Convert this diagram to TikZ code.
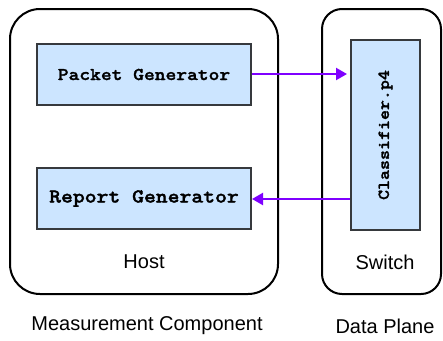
\documentclass[tikz,border=0pt]{standalone}
\usepackage{fontspec}
\setmainfont{Liberation Sans}
\newfontfamily\codefont{lmmonolt10-bold.otf}[FakeStretch=1.14,FakeBold=1.6]
\usetikzlibrary{arrows.meta}
\definecolor{boxfill}{HTML}{CCE5FF}
\definecolor{boxline}{HTML}{36393D}
\definecolor{flow}{HTML}{7F00FF}
\tikzset{
  group/.style={draw=black, line width=2pt, fill=white},
  module/.style={draw=boxline, line width=2pt, fill=boxfill, inner sep=0pt},
  flowarrow/.style={draw=flow, line width=2.2pt, -{Triangle[length=11pt,width=12pt]}},
  caption/.style={font=\fontsize{20}{23}\selectfont, anchor=center}
}
\begin{document}
\begin{tikzpicture}[x=1pt,y=-1pt]
\useasboundingbox (0,0) rectangle (443,340);

% containers
\draw[group, rounded corners=30pt] (10,9) rectangle (278,294);
\draw[group, rounded corners=20pt] (322,9) rectangle (441,294);

% modules
\node[module, minimum width=214pt, minimum height=61pt,
      font=\codefont\fontsize{18}{20}\selectfont] (pg) at (144,74.5) {Packet Generator};
\node[module, minimum width=214pt, minimum height=61pt,
      font=\codefont\fontsize{19.8}{22}\selectfont] (rg) at (144,198.5) {Report Generator};
\node[module, minimum width=190pt, minimum height=69pt, rotate=90,
      font=\codefont\fontsize{16.7}{19}\selectfont] (cl) at (385.5,135) {Classifier.p4};

% flows
\coordinate (clin) at (347,74);
\draw[flowarrow] (pg.east |- clin) -- (clin);
\draw[flowarrow] (cl.north |- 0,199) -- (rg.east |- 0,199);

% labels
\node[caption] (host) at (144,262) {Host};
\node[caption] (sw) at (385,262) {Switch};
\node[caption] (mc) at (147,326) {Measurement Component};
\node[caption] (dp) at (385,326) {Data Plane};
\end{tikzpicture}
\end{document}
